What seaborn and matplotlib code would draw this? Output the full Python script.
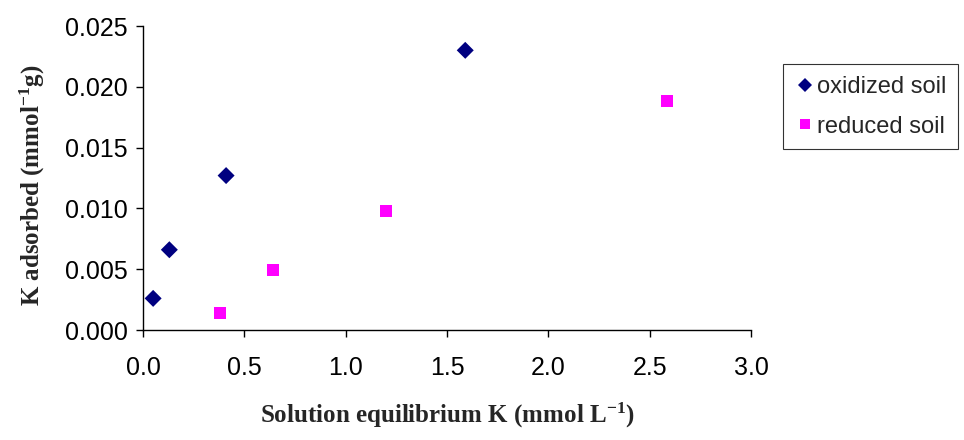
import matplotlib
matplotlib.use("Agg")
import matplotlib.pyplot as plt
import seaborn as sns
import pandas as pd

# Solution equilibrium K (mmol/L) and K adsorbed (mmol/g) for each soil
oxidized_x = [0.05, 0.13, 0.41, 1.59]
oxidized_y = [0.0026, 0.0066, 0.0127, 0.0230]
reduced_x = [0.38, 0.64, 1.20, 2.585]
reduced_y = [0.0014, 0.0049, 0.0098, 0.0188]
series_names = ["oxidized soil", "reduced soil"]
x_ticks = [0.0, 0.5, 1.0, 1.5, 2.0, 2.5, 3.0]
y_ticks = [0.0, 0.005, 0.010, 0.015, 0.020, 0.025]

df = pd.DataFrame({
    "x": oxidized_x + reduced_x,
    "y": oxidized_y + reduced_y,
    "soil": [series_names[0]] * len(oxidized_x) + [series_names[1]] * len(reduced_x),
})

sns.set_theme(style="white")
plt.rcParams["font.family"] = ["Liberation Sans", "DejaVu Sans"]
plt.rcParams["mathtext.fontset"] = "custom"
plt.rcParams["mathtext.rm"] = "Liberation Serif:bold"
plt.rcParams["mathtext.default"] = "rm"

fig = plt.figure(figsize=(9.64, 4.40), dpi=100)
ax = fig.add_axes([143 / 964, 110 / 440, 608 / 964, 304 / 440])

sns.scatterplot(
    data=df, x="x", y="y", hue="soil", style="soil",
    palette={series_names[0]: "#000080", series_names[1]: "#FF00FF"},
    markers={series_names[0]: "D", series_names[1]: "s"},
    s=75, edgecolor="none", linewidth=0, ax=ax, legend=True,
)

ax.set_xlim(0, 3.0)
ax.set_ylim(0, 0.025)
ax.set_xticks(x_ticks)
ax.set_yticks(y_ticks)
ax.xaxis.set_major_formatter(matplotlib.ticker.FormatStrFormatter("%.1f"))
ax.yaxis.set_major_formatter(matplotlib.ticker.FormatStrFormatter("%.3f"))

for side in ["top", "right"]:
    ax.spines[side].set_visible(False)
for side in ["left", "bottom"]:
    ax.spines[side].set_color("black")
    ax.spines[side].set_linewidth(1.0)

ax.tick_params(axis="both", which="major", direction="out", length=5,
               width=1.0, color="black", labelsize=18, labelcolor="black",
               left=True, bottom=True)
ax.tick_params(axis="y", pad=6)
ax.tick_params(axis="x", pad=14)

ax.set_xlabel("Solution equilibrium K (mmol L$^{-1}$)", family="Liberation Serif",
              fontweight="bold", fontsize=18)
ax.set_ylabel("K adsorbed (mmol$^{-1}$g)", family="Liberation Serif",
              fontweight="bold", fontsize=18)
ax.xaxis.label.set_va("center")
ax.yaxis.label.set_va("center")
ax.xaxis.set_label_coords(0.5008, -0.28)
ax.yaxis.set_label_coords(-0.1826, 0.477)

leg = ax.legend(loc="upper left", bbox_to_anchor=(783 / 964, 1 - 64 / 440),
                bbox_transform=fig.transFigure, frameon=True, fancybox=False,
                fontsize=17, handletextpad=0.05, borderpad=0.5, labelspacing=0.75,
                handlelength=0.9, markerscale=0.85, borderaxespad=0)
leg.get_frame().set_edgecolor("black")
leg.get_frame().set_linewidth(0.8)

fig.savefig("out.png", dpi=100)
